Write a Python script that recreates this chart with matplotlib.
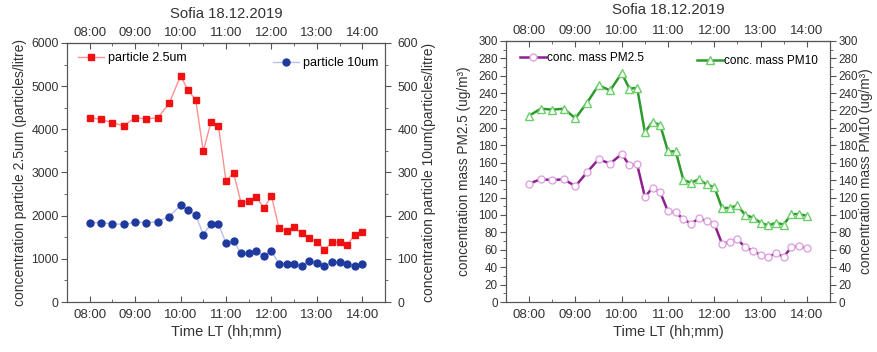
import numpy as np
import matplotlib
matplotlib.use("Agg")
import matplotlib.pyplot as plt
from matplotlib.ticker import MultipleLocator

plt.rcParams['font.family'] = ['Liberation Sans', 'DejaVu Sans']
plt.rcParams['font.size'] = 9.5

# sample times (local time)
times = ["08:00", "08:15", "08:30", "08:45", "09:00", "09:15", "09:30", "09:45",
         "10:00", "10:10", "10:20", "10:30", "10:40", "10:50",
         "11:00", "11:10", "11:20", "11:30", "11:40", "11:50",
         "12:00", "12:10", "12:20", "12:30", "12:40", "12:50",
         "13:00", "13:10", "13:20", "13:30", "13:40", "13:50", "14:00"]

# particle counts (particles/litre)
particle_25 = [4270, 4230, 4150, 4080, 4270, 4240, 4270, 4600,
               5240, 4900, 4680, 3490, 4160, 4080,
               2800, 2990, 2290, 2340, 2440, 2170,
               2460, 1710, 1650, 1730, 1590, 1480,
               1400, 1210, 1380, 1380, 1330, 1550, 1630]
particle_10 = [184, 184, 181, 180, 185, 184, 186, 198,
               224, 212, 202, 156, 181, 181,
               136, 141, 113, 113, 119, 107,
               118, 89, 88, 89, 84, 96,
               91, 83, 92, 92, 89, 84, 88]

# mass concentration (ug/m3)
pm25 = [136, 141, 140, 141, 133, 149, 164, 159,
        170, 157, 158, 121, 131, 126,
        104, 103, 95, 90, 96, 93,
        90, 67, 69, 72, 63, 59,
        54, 52, 56, 52, 63, 64, 62]
pm10 = [214, 222, 221, 222, 211, 229, 249, 243,
        263, 245, 246, 195, 207, 203,
        173, 173, 140, 137, 141, 135,
        132, 108, 108, 111, 100, 97,
        91, 88, 91, 89, 101, 101, 99]

tick_labels = ["08:00", "09:00", "10:00", "11:00", "12:00", "13:00", "14:00"]

hours = np.array([int(t[:2]) + int(t[3:]) / 60 for t in times])
tick_pos = [int(t[:2]) for t in tick_labels]

fig = plt.figure(figsize=(8.77, 3.52), dpi=100)
ax1 = fig.add_axes([67 / 877, 0.142, 318 / 877, 0.736])
ax3 = fig.add_axes([506 / 877, 0.142, 324 / 877, 0.742])

txt = '#333333'
spine_c = '#555555'


def style_axes(ax, ax_r, ysize):
    for a in (ax, ax_r):
        for s in a.spines.values():
            s.set_color(spine_c)
    ax.set_xlim(7.5, 14.5)
    ax.set_xticks(tick_pos)
    ax.set_xticklabels(tick_labels)
    ax.xaxis.set_minor_locator(MultipleLocator(0.5))
    ax.tick_params(axis='x', which='both', direction='in', colors=spine_c,
                   labelcolor=txt, labelsize=9.5, pad=5)
    ax.tick_params(axis='x', which='major', length=4)
    ax.tick_params(axis='x', which='minor', length=2)
    top = ax.secondary_xaxis('top')
    top.set_xticks(tick_pos)
    top.set_xticklabels(tick_labels)
    top.xaxis.set_minor_locator(MultipleLocator(0.5))
    top.tick_params(axis='x', which='both', direction='in', colors=spine_c,
                    labelcolor=txt, labelsize=9.5, pad=3)
    top.tick_params(axis='x', which='major', length=4)
    top.tick_params(axis='x', which='minor', length=2)
    top.spines['top'].set_color(spine_c)
    for a in (ax, ax_r):
        a.tick_params(axis='y', which='both', direction='out', colors=spine_c,
                      labelcolor=txt, labelsize=ysize, pad=2)
        a.tick_params(axis='y', which='major', length=4)
        a.tick_params(axis='y', which='minor', length=2)
    ax.set_xlabel("Time LT (hh;mm)", color=txt, labelpad=3, fontsize=10.5)


# ---- left panel: particle counts
ax2 = ax1.twinx()
l1, = ax1.plot(hours, particle_25, color='#ff9090', lw=1, marker='s', ms=4,
               mfc='#ee1111', mec='#ee1111')
l2, = ax2.plot(hours, particle_10, color='#b8c0ec', lw=1, marker='o', ms=5,
               mfc='#1f3a9e', mec='#1f3a9e')
ax1.set_ylim(0, 6000)
ax2.set_ylim(0, 600)
ax1.yaxis.set_major_locator(MultipleLocator(1000))
ax1.yaxis.set_minor_locator(MultipleLocator(500))
ax2.yaxis.set_major_locator(MultipleLocator(100))
ax2.yaxis.set_minor_locator(MultipleLocator(50))
style_axes(ax1, ax2, 8.8)
ax2.tick_params(axis='y', pad=5)
ax1.set_ylabel("concentration particle 2.5um (particles/litre)", color=txt,
               labelpad=3, fontsize=10)
ax2.set_ylabel("concentration particle 10um(particles/litre)", color=txt,
               labelpad=3, fontsize=10)
ax1.legend([l1], ["particle 2.5um"], loc='center left', bbox_to_anchor=(0.015, 0.942),
           frameon=False, borderpad=0, handlelength=2.1, handletextpad=0.3, fontsize=9)
ax2.legend([l2], ["particle 10um"], loc='center left', bbox_to_anchor=(0.628, 0.923),
           frameon=False, borderpad=0, handlelength=2.1, handletextpad=0.3, fontsize=9)
fig.text((67 + 318 / 2) / 877, 1 - 14 / 352, "Sofia 18.12.2019", ha='center',
         va='center', color=txt, fontsize=10.7)

# ---- right panel: mass concentration
ax4 = ax3.twinx()
l3, = ax3.plot(hours, pm25, color='#8e1f8e', lw=1.8, marker='o', ms=5,
               mfc='white', mec='#e0a4e0', mew=1)
l4, = ax4.plot(hours, pm10, color='#2e9a2e', lw=1.8, marker='^', ms=5.5,
               mfc='white', mec='#6ccf6c', mew=1)
for a in (ax3, ax4):
    a.set_ylim(0, 300)
    a.yaxis.set_major_locator(MultipleLocator(20))
    a.yaxis.set_minor_locator(MultipleLocator(10))
style_axes(ax3, ax4, 8.4)
ax3.set_ylabel("concentration mass PM2.5 (ug/m³)", color=txt, labelpad=5, fontsize=9.8)
ax4.set_ylabel("concentration mass PM10 (ug/m³)", color=txt, labelpad=1, fontsize=9.8)
ax3.legend([l3], ["conc. mass PM2.5"], loc='center left', bbox_to_anchor=(0.025, 0.935),
           frameon=False, borderpad=0, handlelength=2.2, handletextpad=0.1, fontsize=8.5)
ax4.legend([l4], ["conc. mass PM10"], loc='center left', bbox_to_anchor=(0.57, 0.923),
           frameon=False, borderpad=0, handlelength=2.2, handletextpad=0.1, fontsize=8.5)
fig.text((506 + 324 / 2) / 877, 1 - 10 / 352, "Sofia 18.12.2019", ha='center',
         va='center', color=txt, fontsize=10.7)

fig.savefig("out.png", dpi=100)
